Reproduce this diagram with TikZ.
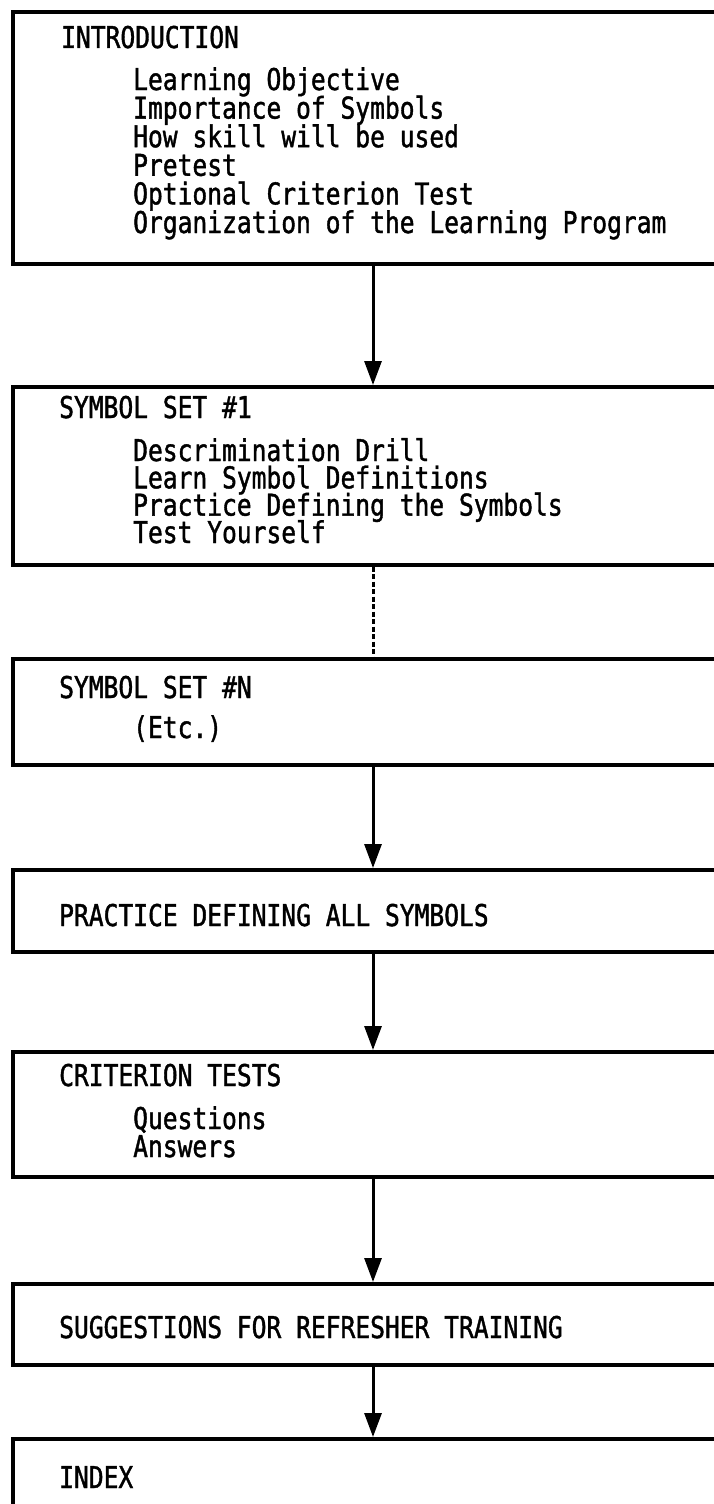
\documentclass[tikz,border=0pt]{standalone}
\usepackage{fontspec}
\setmonofont[FakeStretch=0.82,FakeBold=1.3]{DejaVu Sans Mono}
\usetikzlibrary{arrows.meta}

\tikzset{
  stage/.style={draw, line width=3.6pt, minimum width=720pt, inner sep=0pt},
  head/.style={anchor=base west, inner sep=0pt, font=\ttfamily\fontsize{30}{30}\selectfont},
  flow/.style={line width=3pt, -{Triangle[length=24pt,width=17pt]}},
  gap/.style={line width=3pt, dash pattern=on 5pt off 2.5pt},
}

\begin{document}
\begin{tikzpicture}[x=1pt,y=-1pt]
\useasboundingbox[fill=white] (0,0) rectangle (713,1504);

% the frames
\node[stage, minimum height=252pt, anchor=north] (intro) at (373,10) {};
\node[stage, minimum height=178pt, anchor=north] (setone) at (373,385) {};
\node[stage, minimum height=106pt, anchor=north] (setn) at (373,657) {};
\node[stage, minimum height=82pt, anchor=north] (allsym) at (373,868) {};
\node[stage, minimum height=125pt, anchor=north] (crit) at (373,1050) {};
\node[stage, minimum height=81pt, anchor=north] (refresh) at (373,1282) {};
\node[stage, minimum height=163pt, anchor=north] (index) at (373,1437) {};

% introduction
\node[head] (introhd) at (61,48) {INTRODUCTION};
\node[head] (introa) at (133,90) {Learning Objective};
\node[head] (introb) at (133,118.6) {Importance of Symbols};
\node[head] (introc) at (133,147.2) {How skill will be used};
\node[head] (introd) at (133,175.8) {Pretest};
\node[head] (introe) at (133,204.4) {Optional Criterion Test};
\node[head] (introf) at (133,233) {Organization of the Learning Program};

% symbol sets
\node[head] (onehd) at (59,418) {SYMBOL SET \#1};
\node[head] (onea) at (133,461) {Descrimination Drill};
\node[head] (oneb) at (133,488.3) {Learn Symbol Definitions};
\node[head] (onec) at (133,515.6) {Practice Defining the Symbols};
\node[head] (oned) at (133,543) {Test Yourself};

\node[head] (nhd) at (59,698) {SYMBOL SET \#N};
\node[head] (na) at (133,738) {(Etc.)};

% the rest
\node[head] (allhd) at (59,926) {PRACTICE DEFINING ALL SYMBOLS};

\node[head] (crithd) at (59,1086) {CRITERION TESTS};
\node[head] (crita) at (133,1129) {Questions};
\node[head] (critb) at (133,1157) {Answers};

\node[head] (refhd) at (59,1338) {SUGGESTIONS FOR REFRESHER TRAINING};

\node[head] (idxhd) at (59,1488) {INDEX};

% connectors
\draw[flow] (intro) -- (setone);
\draw[gap] (setone) -- (setn);
\draw[flow] (setn) -- (allsym);
\draw[flow] (allsym) -- (crit);
\draw[flow] (crit) -- (refresh);
\draw[flow] (refresh) -- (index);
\end{tikzpicture}
\end{document}
